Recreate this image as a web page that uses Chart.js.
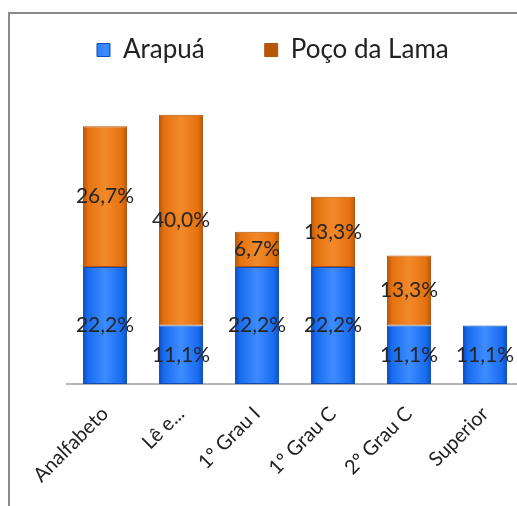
<!DOCTYPE html>
<html>
<head>
<meta charset="utf-8">
<script src="https://cdn.jsdelivr.net/npm/chart.js@4/dist/chart.umd.min.js"></script>
<style>
  html, body { margin: 0; padding: 0; background: #fff; overflow: hidden; width: 517px; height: 506px; }
  #wrap { position: absolute; left: 0; top: -23px; width: 523px; height: 529px; }
  #frame { position: absolute; left: 8px; top: 12px; width: 600px; height: 600px;
           border-top: 2px solid #8a8a8a; border-left: 2px solid #8a8a8a; pointer-events: none; }
</style>
</head>
<body>
<div id="wrap"><canvas id="chart"></canvas></div>
<div id="frame"></div>
<script>
  const categories = ["Analfabeto", "Lê e...", "1º Grau I", "1º Grau C", "2º Grau C", "Superior"];
  const arapua = [22.2, 11.1, 22.2, 22.2, 11.1, 11.1];
  const pocoDaLama = [26.7, 40.0, 6.7, 13.3, 13.3, 0];

  const FONT = "Lato, 'Open Sans', sans-serif";

  function fmtPct(v) { return v.toFixed(1).replace(".", ",") + "%"; }

  // horizontal shading across each bar, like the original's bevel
  function barFill(dark, mid, light) {
    return function (ctx) {
      const chart = ctx.chart;
      const xs = chart.scales.x;
      if (!chart.chartArea || !xs) return mid;
      const cx = xs.getPixelForValue(ctx.dataIndex);
      const half = (xs.width / categories.length) * 0.58 / 2;
      const g = chart.ctx.createLinearGradient(cx - half, 0, cx + half, 0);
      g.addColorStop(0, dark);
      g.addColorStop(0.12, mid);
      g.addColorStop(0.5, light);
      g.addColorStop(0.88, mid);
      g.addColorStop(1, dark);
      return g;
    };
  }

  const valueLabels = {
    id: "valueLabels",
    afterDatasetsDraw(chart) {
      const c = chart.ctx;
      c.save();
      c.font = "21px " + FONT;
      c.fillStyle = "#262626";
      c.textAlign = "center";
      c.textBaseline = "middle";
      chart.data.datasets.forEach((ds, i) => {
        const meta = chart.getDatasetMeta(i);
        meta.data.forEach((bar, j) => {
          const v = ds.data[j];
          if (!v) return;
          const p = bar.getProps(["x", "y", "base"], true);
          c.fillText(fmtPct(v), p.x, (p.y + p.base) / 2);
        });
      });
      c.restore();
    }
  };

  new Chart(document.getElementById("chart"), {
    type: "bar",
    data: {
      labels: categories,
      datasets: [
        {
          label: "Arapuá",
          data: arapua,
          backgroundColor: barFill("#0b4fc4", "#1a6cf0", "#3d8cff"),
          borderColor: "#0d4db5",
          borderWidth: 1,
          borderSkipped: false
        },
        {
          label: "Poço da Lama",
          data: pocoDaLama,
          backgroundColor: barFill("#b8570a", "#e6710f", "#f28a2a"),
          borderColor: "#b25408",
          borderWidth: 1,
          borderSkipped: false
        }
      ]
    },
    options: {
      responsive: true,
      maintainAspectRatio: false,
      animation: false,
      layout: { padding: { left: 37, right: 0, top: 0, bottom: 0 } },
      datasets: { bar: { barPercentage: 0.58, categoryPercentage: 1 } },
      plugins: {
        legend: {
          display: true,
          align: "start",
          labels: {
            boxWidth: 13,
            boxHeight: 13,
            padding: 60,
            color: "#222",
            font: { family: FONT, size: 26 }
          }
        },
        tooltip: { enabled: false }
      },
      scales: {
        x: {
          stacked: true,
          grid: { display: false },
          border: { display: true, color: "#b5b5b5", width: 2 },
          ticks: {
            color: "#222",
            minRotation: 45,
            maxRotation: 45,
            padding: 10,
            font: { family: FONT, size: 20 }
          },
          afterFit: s => { s.height = 122; }
        },
        y: {
          stacked: true,
          min: 0,
          max: 59,
          grid: { display: false },
          border: { display: false },
          ticks: { display: false },
          afterFit: s => { s.width = 30; }
        }
      }
    },
    plugins: [valueLabels]
  });
</script>
</body>
</html>
